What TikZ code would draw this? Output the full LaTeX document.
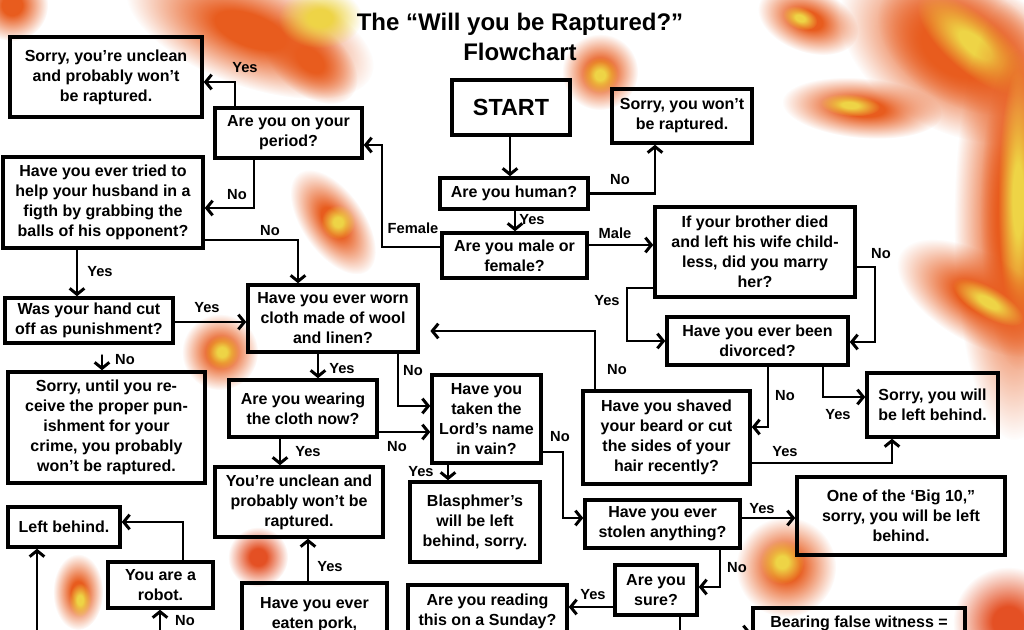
\documentclass[tikz,border=0pt]{standalone}
\usepackage{fontspec}
\setmainfont{Liberation Sans}
\usetikzlibrary{arrows.meta,fadings}
\pgfdeclareradialshading{blobsh}{\pgfpointorigin}{color(0bp)=(white); color(7bp)=(white); color(25bp)=(black); color(50bp)=(black)}
\pgfdeclarefading{blobfade}{\pgfuseshading{blobsh}}
\definecolor{blobor}{RGB}{232,92,30}
\definecolor{bloby}{RGB}{238,212,70}
\definecolor{blobred}{RGB}{228,80,36}
\tikzset{
 box/.style={draw, line width=2.6pt, align=center, inner sep=1pt, font=\bfseries\fontsize{12}{15}\selectfont},
 arr/.style={line width=2.2pt, line cap=round, -{Straight Barb[length=4.5pt,width=11pt]}},
 lbl/.style={font=\bfseries\fontsize{11}{13}\selectfont, inner sep=0pt},
 blob/.style={path fading=blobfade},
}
\newcommand\mybox[6]{\node[box, minimum width={(#4-#2)*0.75pt}, minimum height={(#5-#3)*0.75pt}] (#1) at ({(#2+#4)/2},{(#3+#5)/2}) {#6};}
\newcommand\blobe[6]{\begin{scope}[transform canvas={shift={(#2,#3)},rotate=#6}]\fill[#1,blob] (0,0) ellipse [x radius=#4, y radius=#5];\end{scope}}
\begin{document}
\begin{tikzpicture}[x=0.75pt,y=-0.75pt]
\clip (0,0) rectangle (1024,630);
\fill[white] (0,0) rectangle (1024,630);
% background blobs
\blobe{blobor}{250}{30}{130}{56}{-20}
\blobe{blobor}{310}{60}{55}{34}{-40}
\blobe{bloby}{320}{18}{42}{30}{0}
\blobe{blobor}{12}{5}{36}{36}{0}
\blobe{blobor}{600}{72}{38}{38}{0}
\blobe{bloby}{600}{75}{18}{18}{0}
% right flames
\blobe{blobor}{808}{20}{52}{32}{-20}
\blobe{bloby}{800}{18}{18}{11}{-20}
\blobe{blobor}{955}{50}{125}{80}{-30}
\blobe{blobor}{965}{45}{95}{60}{-30}
\blobe{bloby}{975}{45}{72}{28}{-40}
\blobe{blobor}{862}{108}{80}{30}{-5}
\blobe{bloby}{850}{105}{30}{11}{-5}
\blobe{blobor}{1014}{220}{60}{220}{0}
\blobe{blobor}{1020}{210}{40}{160}{0}
\blobe{bloby}{1018}{200}{20}{130}{0}
\blobe{blobor}{978}{298}{90}{44}{-30}
\blobe{bloby}{988}{302}{40}{15}{-30}
% others
\blobe{blobor}{333}{222}{60}{31}{-55}
\blobe{bloby}{338}{222}{17}{17}{0}
\blobe{blobor}{220}{352}{38}{38}{0}
\blobe{bloby}{222}{352}{17}{17}{0}
\blobe{blobor}{78}{592}{25}{38}{0}
\blobe{bloby}{80}{600}{11}{17}{0}
\blobe{blobred}{258}{557}{30}{30}{0}
\blobe{blobor}{786}{567}{50}{50}{0}
\blobe{bloby}{782}{562}{22}{22}{0}
\blobe{blobred}{1008}{622}{55}{55}{0}

% title
\node[font=\bfseries\fontsize{18}{22.5}\selectfont, align=center] (title) at (520,37) {The “Will you be Raptured?”\\Flowchart};

% boxes
\mybox{unclean1}{10}{37}{202}{117}{Sorry, you’re unclean\\and probably won’t\\be raptured.}
\mybox{period}{215}{108}{362}{158}{Are you on your\\period?}
\mybox{husband}{3}{157}{203}{248}{Have you ever tried to\\help your husband in a\\figth by grabbing the\\balls of his opponent?}
\node[box, font=\bfseries\fontsize{17.5}{20}\selectfont, minimum width={118*0.75pt}, minimum height={55*0.75pt}] (start) at (511,107.5) {START};
\mybox{sorrywont}{612}{89}{752}{143}{Sorry, you won’t\\be raptured.}
\mybox{human}{440}{178}{588}{209}{Are you human?}
\mybox{mf}{442}{233}{587}{278}{Are you male or\\female?}
\mybox{brother}{655}{207}{855}{297}{If your brother died\\and left his wife child-\\less, did you marry\\her?}
\mybox{divorced}{667}{317}{848}{365}{Have you ever been\\divorced?}
\mybox{sorrywill}{867}{373}{998}{437}{Sorry, you will\\be left behind.}
\mybox{shaved}{583}{391}{750}{484}{Have you shaved\\your beard or cut\\the sides of your\\hair recently?}
\mybox{stolen}{585}{500}{740}{548}{Have you ever\\stolen anything?}
\mybox{bigten}{797}{477}{1005}{555}{One of the ‘Big 10,”\\sorry, you will be left\\behind.}
\mybox{sure}{615}{565}{697}{615}{Are you\\sure?}
\mybox{bearing}{753}{608}{965}{638}{Bearing false witness =}
\mybox{sunday}{408}{585}{567}{638}{Are you reading\\this on a Sunday?}
\mybox{pork}{242}{583}{387}{646}{Have you ever\\eaten pork,}
\mybox{unclean2}{215}{467}{383}{537}{You’re unclean and\\probably won’t be\\raptured.}
\mybox{blasph}{410}{482}{540}{562}{Blasphmer’s\\will be left\\behind, sorry.}
\mybox{lord}{432}{375}{541}{463}{Have you\\taken the\\Lord’s name\\in vain?}
\mybox{wearing}{229}{380}{377}{437}{Are you wearing\\the cloth now?}
\mybox{wool}{248}{285}{418}{352}{Have you ever worn\\cloth made of wool\\and linen?}
\mybox{hand}{5}{298}{173}{343}{Was your hand cut\\off as punishment?}
\mybox{sorryuntil}{8}{372}{205}{483}{Sorry, until you re-\\ceive the proper pun-\\ishment for your\\crime, you probably\\won’t be raptured.}
\mybox{leftbehind}{8}{507}{120}{547}{Left behind.}
\mybox{robot}{108}{562}{213}{608}{You are a\\robot.}

% free ends
\coordinate (sureout) at (680,645);
\coordinate (bearin) at (700,633);
\coordinate (robotin) at (160,645);
\coordinate (lbin) at (37,645);

% connectors
\draw[arr] (start.south -| 510,0) -- (human.north -| 510,0);
\draw[arr] (human.east) -| (655,0 |- sorrywont.south);
\draw[arr] (human.south -| 515,0) -- (mf.north -| 515,0);
\draw[arr] (mf.east |- 0,245) -- (brother.west |- 0,245);
\draw[arr] (mf.west |- 0,247) -| (382,145) -- (period.east |- 0,145);
\draw[arr] (period.north -| 235,0) |- (unclean1.east |- 0,82);
\draw[arr] (period.south -| 254,0) |- (husband.east |- 0,208);
\draw[arr] (husband.east |- 0,240) -| (wool.north -| 298,0);
\draw[arr] (husband.south -| 77,0) -- (hand.north -| 77,0);
\draw[arr] (hand.east |- 0,322) -- (wool.west |- 0,322);
\draw[arr, shorten <=8pt] (hand.south -| 102,0) -- (sorryuntil.north -| 102,0);
\draw[arr] (wool.south -| 318,0) -- (wearing.north -| 318,0);
\draw[arr] (wool.south -| 398,0) |- (lord.west |- 0,406);
\draw[arr] (wearing.east |- 0,432) -- (lord.west |- 0,432);
\draw[arr] (wearing.south -| 280,0) -- (unclean2.north -| 280,0);
\draw[arr] (lord.south -| 448,0) -- (blasph.north -| 448,0);
\draw[arr] (lord.east |- 0,452) -| (563,518) -- (stolen.west |- 0,518);
\draw[arr, shorten >=8pt] (shaved.north -| 595,0) |- (wool.east |- 0,331);
\draw[arr] (brother.west |- 0,288) -| (627,341) -- (divorced.west |- 0,341);
\draw[arr] (brother.east |- 0,267) -| (875,342) -- (divorced.east |- 0,342);
\draw[arr] (divorced.south -| 768,0) |- (shaved.east |- 0,427);
\draw[arr] (divorced.south -| 823,0) |- (sorrywill.west |- 0,397);
\draw[arr] (shaved.east |- 0,463) -| (sorrywill.south -| 892,0);
\draw[arr] (stolen.east |- 0,518) -- (bigten.west |- 0,518);
\draw[arr] (stolen.south -| 720,0) |- (sure.east |- 0,587);
\draw[arr] (sure.west |- 0,607) -- (sunday.east |- 0,607);
\draw[line width=2.2pt] (sure.south -| sureout) -- (sureout);
\draw[arr] (bearin) -- (bearing.west |- bearin);
\draw[arr] (pork.north -| 308,0) -- (unclean2.south -| 308,0);
\draw[arr] (robot.north -| 183,0) |- (leftbehind.east |- 0,522);
\draw[arr] (robotin) -- (robot.south -| robotin);
\draw[arr] (lbin) -- (leftbehind.south -| lbin);

% labels
\node[lbl] (l1) at (245,68) {Yes};
\node[lbl] (l2) at (237,195) {No};
\node[lbl] (l3) at (270,231) {No};
\node[lbl] (l4) at (413,228) {Female};
\node[lbl] (l5) at (620,180) {No};
\node[lbl] (l6) at (532,220) {Yes};
\node[lbl] (l7) at (615,233) {Male};
\node[lbl] (l8) at (100,272) {Yes};
\node[lbl] (l9) at (207,308) {Yes};
\node[lbl] (l10) at (125,360) {No};
\node[lbl] (l11) at (342,369) {Yes};
\node[lbl] (l12) at (413,371) {No};
\node[lbl] (l13) at (397,447) {No};
\node[lbl] (l14) at (308,452) {Yes};
\node[lbl] (l15) at (421,472) {Yes};
\node[lbl] (l16) at (560,437) {No};
\node[lbl] (l17) at (607,301) {Yes};
\node[lbl] (l18) at (881,254) {No};
\node[lbl] (l19) at (617,370) {No};
\node[lbl] (l20) at (785,396) {No};
\node[lbl] (l21) at (838,415) {Yes};
\node[lbl] (l22) at (785,452) {Yes};
\node[lbl] (l23) at (762,509) {Yes};
\node[lbl] (l24) at (737,568) {No};
\node[lbl] (l25) at (593,595) {Yes};
\node[lbl] (l26) at (330,567) {Yes};
\node[lbl] (l27) at (185,621) {No};
\end{tikzpicture}
\end{document}
